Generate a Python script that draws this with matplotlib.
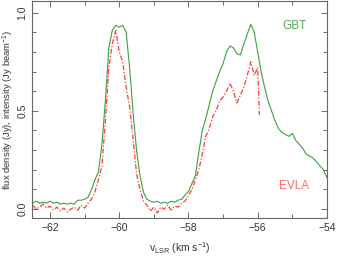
import matplotlib
matplotlib.use("Agg")
import matplotlib.pyplot as plt
from matplotlib.ticker import MultipleLocator

plt.rcParams['font.family'] = ['Liberation Sans', 'DejaVu Sans']
plt.rcParams['mathtext.default'] = 'regular'

# GBT spectrum (flux density, Jy)
gbt_v = [-62.5, -62.4, -62.3, -62.2, -62.1, -62.0, -61.9, -61.8, -61.7, -61.6,
         -61.5, -61.4, -61.3, -61.2, -61.1, -61.0, -60.9, -60.8, -60.7, -60.6,
         -60.5, -60.4, -60.3, -60.2, -60.1, -60.0, -59.9, -59.8, -59.7, -59.6,
         -59.5, -59.4, -59.3, -59.2, -59.1, -59.0, -58.9, -58.8, -58.7, -58.6,
         -58.5, -58.4, -58.3, -58.2, -58.1, -58.0, -57.9, -57.8, -57.7, -57.6,
         -57.5, -57.4, -57.3, -57.2, -57.1, -57.0, -56.9, -56.8, -56.7, -56.6,
         -56.5, -56.4, -56.3, -56.2, -56.1, -56.0, -55.9, -55.8, -55.7, -55.6,
         -55.5, -55.4, -55.3, -55.2, -55.1, -55.0, -54.9, -54.8, -54.7, -54.6,
         -54.5, -54.4, -54.3, -54.2, -54.1, -54.0]
gbt_flux = [0.030, 0.040, 0.030, 0.035, 0.030, 0.040, 0.030, 0.035, 0.025, 0.030,
            0.025, 0.030, 0.025, 0.045, 0.045, 0.050, 0.060, 0.100, 0.150, 0.190,
            0.330, 0.550, 0.820, 0.910, 0.935, 0.925, 0.935, 0.900, 0.720, 0.490,
            0.300, 0.170, 0.085, 0.050, 0.040, 0.035, 0.040, 0.030, 0.035, 0.030,
            0.040, 0.035, 0.045, 0.050, 0.070, 0.090, 0.130, 0.170, 0.290, 0.400,
            0.460, 0.530, 0.600, 0.650, 0.700, 0.740, 0.800, 0.830, 0.820, 0.790,
            0.785, 0.840, 0.890, 0.940, 0.900, 0.800, 0.700, 0.620, 0.550, 0.500,
            0.450, 0.410, 0.390, 0.380, 0.370, 0.385, 0.350, 0.330, 0.310, 0.280,
            0.270, 0.260, 0.240, 0.220, 0.200, 0.160]

# EVLA spectrum (intensity, Jy/beam)
evla_v = [-62.5, -62.4, -62.3, -62.2, -62.1, -62.0, -61.9, -61.8, -61.7, -61.6,
          -61.5, -61.4, -61.3, -61.2, -61.1, -61.0, -60.9, -60.8, -60.7, -60.6,
          -60.5, -60.4, -60.3, -60.2, -60.1, -60.0, -59.9, -59.8, -59.7, -59.6,
          -59.5, -59.4, -59.3, -59.2, -59.1, -59.0, -58.9, -58.8, -58.7, -58.6,
          -58.5, -58.4, -58.3, -58.2, -58.1, -58.0, -57.9, -57.8, -57.7, -57.6,
          -57.5, -57.4, -57.3, -57.2, -57.1, -57.0, -56.9, -56.8, -56.7, -56.6,
          -56.5, -56.4, -56.3, -56.2, -56.1, -56.0, -55.95]
evla_int = [0.020, 0.000, 0.010, 0.025, 0.005, 0.015, -0.005, 0.010, -0.010, 0.005,
            -0.015, 0.000, 0.010, -0.005, 0.020, 0.005, 0.030, 0.050, 0.090, 0.150,
            0.220, 0.450, 0.720, 0.840, 0.910, 0.800, 0.750, 0.620, 0.520, 0.360,
            0.180, 0.100, 0.040, 0.020, -0.010, 0.010, -0.020, 0.010, 0.000, 0.020,
            -0.005, 0.015, 0.010, 0.030, 0.040, 0.070, 0.100, 0.150, 0.200, 0.280,
            0.370, 0.410, 0.470, 0.500, 0.550, 0.570, 0.600, 0.640, 0.600, 0.540,
            0.580, 0.620, 0.680, 0.750, 0.680, 0.720, 0.480]

green = '#3f9f3f'
red = '#ff3b3b'
txt = '#333333'

fig = plt.figure(figsize=(3.37, 2.56), dpi=100)
ax = fig.add_axes([0.095, 0.148, 0.875, 0.849])

ax.plot(gbt_v, gbt_flux, color=green, lw=0.8)
ax.plot(evla_v, evla_int, color=red, lw=0.9, linestyle=(0, (4, 1.5, 1, 1.5)))

ax.set_xlim(-62.52, -54.0)
ax.set_ylim(-0.046, 1.06)

ax.xaxis.set_major_locator(MultipleLocator(2))
ax.xaxis.set_minor_locator(MultipleLocator(1))
ax.yaxis.set_major_locator(MultipleLocator(0.5))
ax.yaxis.set_minor_locator(MultipleLocator(0.1))
ax.tick_params(which='both', direction='in', top=True, right=True,
               colors='#555555', labelcolor=txt, labelsize=7.5, width=0.6)
ax.tick_params(which='major', length=4)
ax.tick_params(which='minor', length=3)
for lab in ax.get_yticklabels():
    lab.set_rotation(90)
    lab.set_va('center')
for s in ax.spines.values():
    s.set_color('#666666')
    s.set_linewidth(0.8)

ax.set_xlabel(r'v$_{LSR}$ (km s$^{-1}$)', fontsize=7.5, color=txt, labelpad=5)
ax.set_ylabel(r'flux density (Jy), intensity (Jy beam$^{-1}$)', fontsize=6.8,
              color=txt, labelpad=1)

ax.text(0.89, 0.885, 'GBT', transform=ax.transAxes, color='#5aaa5a',
        fontsize=8.5, ha='center', va='center')
ax.text(0.89, 0.15, 'EVLA', transform=ax.transAxes, color='#ff6a6a',
        fontsize=8.5, ha='center', va='center')

fig.savefig('out.png', dpi=100)
